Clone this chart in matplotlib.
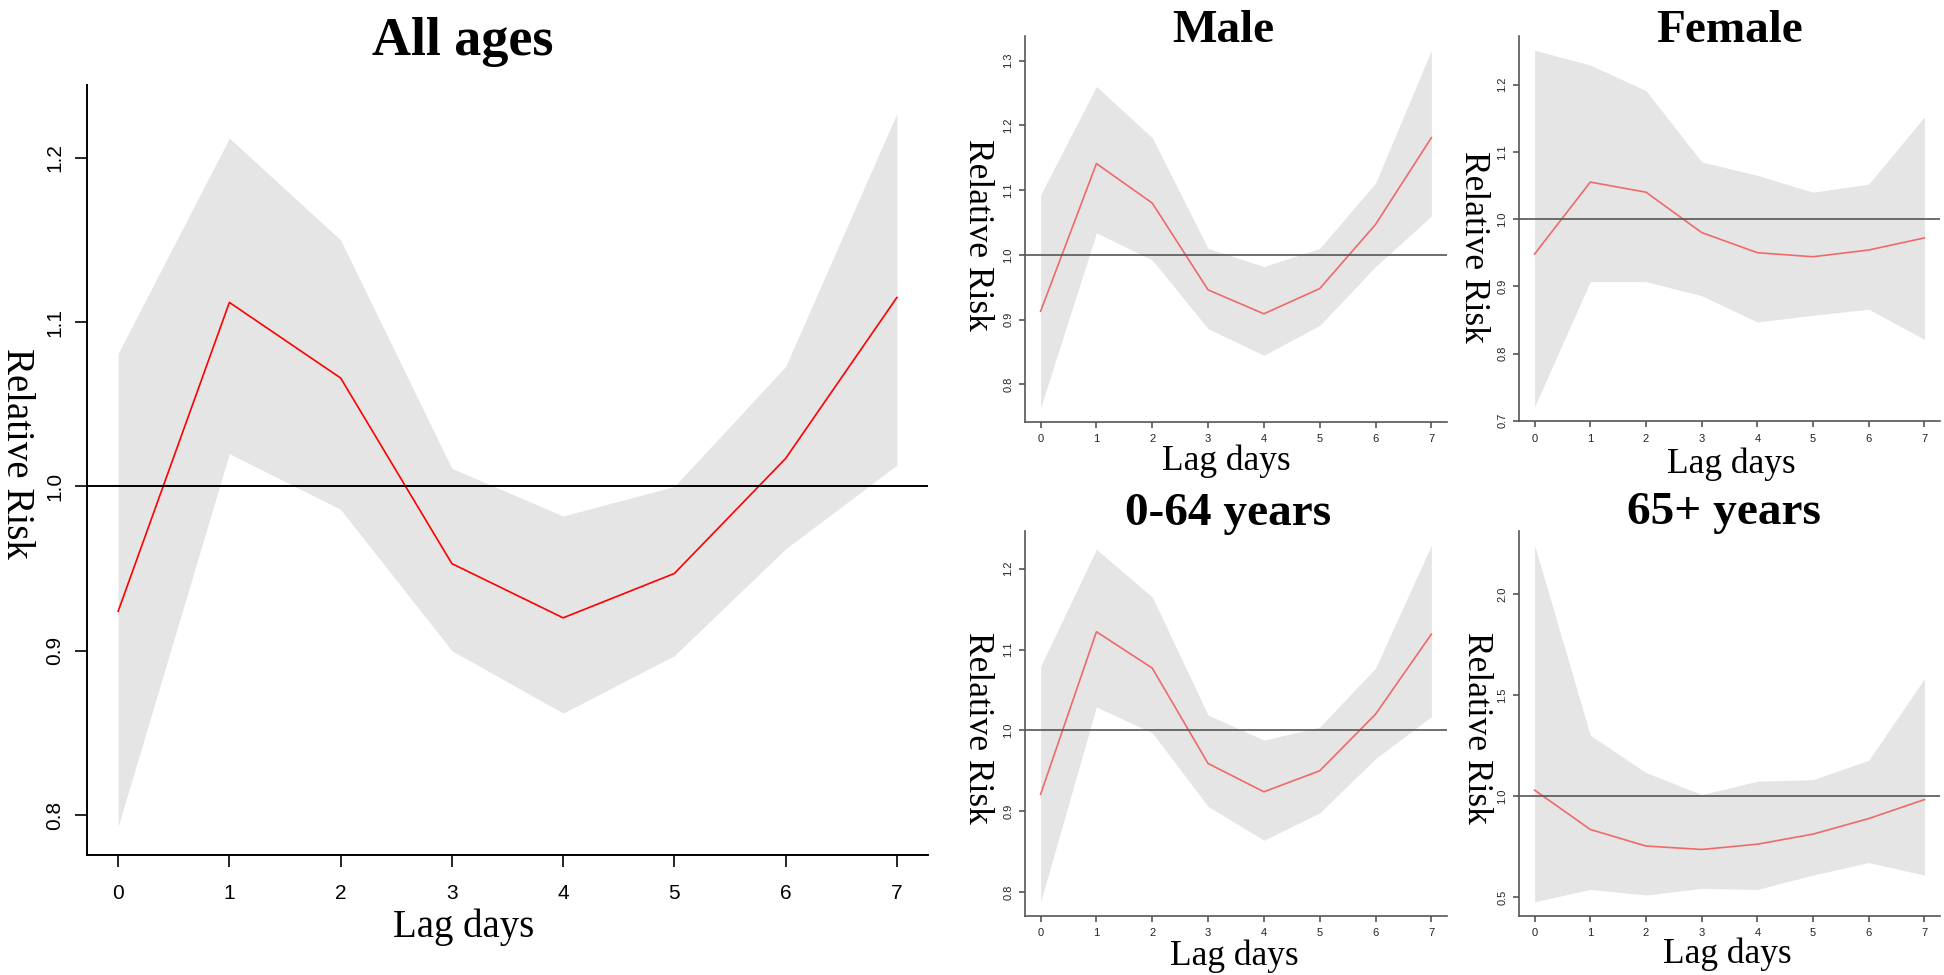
import matplotlib
matplotlib.use("Agg")
import matplotlib.pyplot as plt

W, H = 1944, 975

lag = [0, 1, 2, 3, 4, 5, 6, 7]

# relative risk with 95% CI
all_rr = [0.924, 1.112, 1.066, 0.953, 0.920, 0.947, 1.017, 1.115]
all_lo = [0.793, 1.020, 0.986, 0.900, 0.862, 0.897, 0.962, 1.013]
all_hi = [1.081, 1.212, 1.150, 1.011, 0.982, 1.000, 1.073, 1.227]

male_rr = [0.913, 1.141, 1.080, 0.946, 0.909, 0.948, 1.047, 1.181]
male_lo = [0.764, 1.034, 0.992, 0.886, 0.845, 0.891, 0.982, 1.060]
male_hi = [1.093, 1.260, 1.181, 1.010, 0.982, 1.010, 1.111, 1.316]

female_rr = [0.948, 1.055, 1.040, 0.980, 0.950, 0.944, 0.954, 0.972]
female_lo = [0.721, 0.907, 0.907, 0.886, 0.847, 0.857, 0.866, 0.821]
female_hi = [1.251, 1.229, 1.191, 1.085, 1.065, 1.040, 1.052, 1.152]

young_rr = [0.921, 1.122, 1.077, 0.959, 0.924, 0.950, 1.020, 1.119]
young_lo = [0.788, 1.029, 0.997, 0.906, 0.864, 0.898, 0.965, 1.017]
young_hi = [1.079, 1.224, 1.165, 1.019, 0.988, 1.004, 1.077, 1.229]

old_rr = [1.030, 0.835, 0.753, 0.736, 0.762, 0.812, 0.889, 0.983]
old_lo = [0.477, 0.538, 0.510, 0.543, 0.538, 0.609, 0.671, 0.609]
old_hi = [2.243, 1.302, 1.117, 1.008, 1.074, 1.082, 1.178, 1.582]

main_yticks = [0.8, 0.9, 1.0, 1.1, 1.2]
male_yticks = [0.8, 0.9, 1.0, 1.1, 1.2, 1.3]
female_yticks = [0.7, 0.8, 0.9, 1.0, 1.1, 1.2]
young_yticks = [0.8, 0.9, 1.0, 1.1, 1.2]
old_yticks = [0.5, 1.0, 1.5, 2.0]

band_col = "#e5e5e5"
serif = "Liberation Serif"
sans = "Liberation Sans"


def rect(x0, y0, x1, y1):
    return [x0 / W, 1 - y1 / H, (x1 - x0) / W, (y1 - y0) / H]


def put(x, y, s, **kw):
    fig.text(x / W, 1 - y / H, s, family=serif, **kw)


def panel(box, rr, lo, hi, yticks, small):
    ax = fig.add_axes(rect(*box))
    ax.fill_between(lag, lo, hi, color=band_col, lw=0)
    if small:
        ax.plot(lag, rr, color="#ee6a6a", lw=1.2)
        ax.axhline(1.0, color="#555555", lw=1.2)
        axcol, tcol, fs, tl, xpad, ypad = "#555555", "#222222", 8, 4, 5.0, 4.4
    else:
        ax.plot(lag, rr, color="red", lw=1.2)
        ax.axhline(1.0, color="black", lw=1.4)
        axcol, tcol, fs, tl, xpad, ypad = "black", "black", 15, 8.5, 12.5, 8
    ax.set_xlim(-0.28, 7.28)
    lo_v, hi_v = min(lo), max(hi)
    pad = 0.04 * (hi_v - lo_v)
    ax.set_ylim(lo_v - pad, hi_v + pad)
    ax.set_xticks(lag)
    ax.set_xticklabels([str(v) for v in lag], family=sans, fontsize=fs, color=tcol)
    ax.set_yticks(yticks)
    ax.set_yticklabels(["%.1f" % v for v in yticks], family=sans, fontsize=fs,
                       color=tcol, rotation=90, va="center")
    ax.tick_params(axis="x", length=tl, width=1.2, color=axcol, pad=xpad)
    ax.tick_params(axis="y", length=tl, width=1.2, color=axcol, pad=ypad)
    for side in ["top", "right"]:
        ax.spines[side].set_visible(False)
    for side in ["left", "bottom"]:
        ax.spines[side].set_color(axcol)
        ax.spines[side].set_linewidth(1.4 if not small else 1.2)
    return ax


fig = plt.figure(figsize=(W / 100, H / 100), dpi=100)

panel((87, 85, 928, 855), all_rr, all_lo, all_hi, main_yticks, False)
put(463, 55, "All ages", fontsize=39, weight="bold", ha="center", va="baseline")
put(464, 937, "Lag days", fontsize=28, ha="center", va="baseline")
put(16, 453, "Relative Risk", fontsize=28, rotation=270, ha="center", va="center")

panel((1025, 36, 1447, 422), male_rr, male_lo, male_hi, male_yticks, True)
put(1223, 42, "Male", fontsize=34, weight="bold", ha="center", va="baseline")
put(1226, 470, "Lag days", fontsize=25.5, ha="center", va="baseline")
put(977, 235, "Relative Risk", fontsize=25.5, rotation=270, ha="center", va="center")

panel((1519, 36, 1940, 421), female_rr, female_lo, female_hi, female_yticks, True)
put(1730, 42, "Female", fontsize=34, weight="bold", ha="center", va="baseline")
put(1731, 473, "Lag days", fontsize=25.5, ha="center", va="baseline")
put(1473, 247, "Relative Risk", fontsize=25.5, rotation=270, ha="center", va="center")

panel((1025, 531, 1447, 916), young_rr, young_lo, young_hi, young_yticks, True)
put(1228, 525, "0-64 years", fontsize=34, weight="bold", ha="center", va="baseline")
put(1234, 965, "Lag days", fontsize=25.5, ha="center", va="baseline")
put(977, 728, "Relative Risk", fontsize=25.5, rotation=270, ha="center", va="center")

panel((1519, 531, 1940, 916), old_rr, old_lo, old_hi, old_yticks, True)
put(1724, 524, "65+ years", fontsize=34, weight="bold", ha="center", va="baseline")
put(1727, 963, "Lag days", fontsize=25.5, ha="center", va="baseline")
put(1476, 728, "Relative Risk", fontsize=25.5, rotation=270, ha="center", va="center")

fig.savefig("out.png", dpi=100)
